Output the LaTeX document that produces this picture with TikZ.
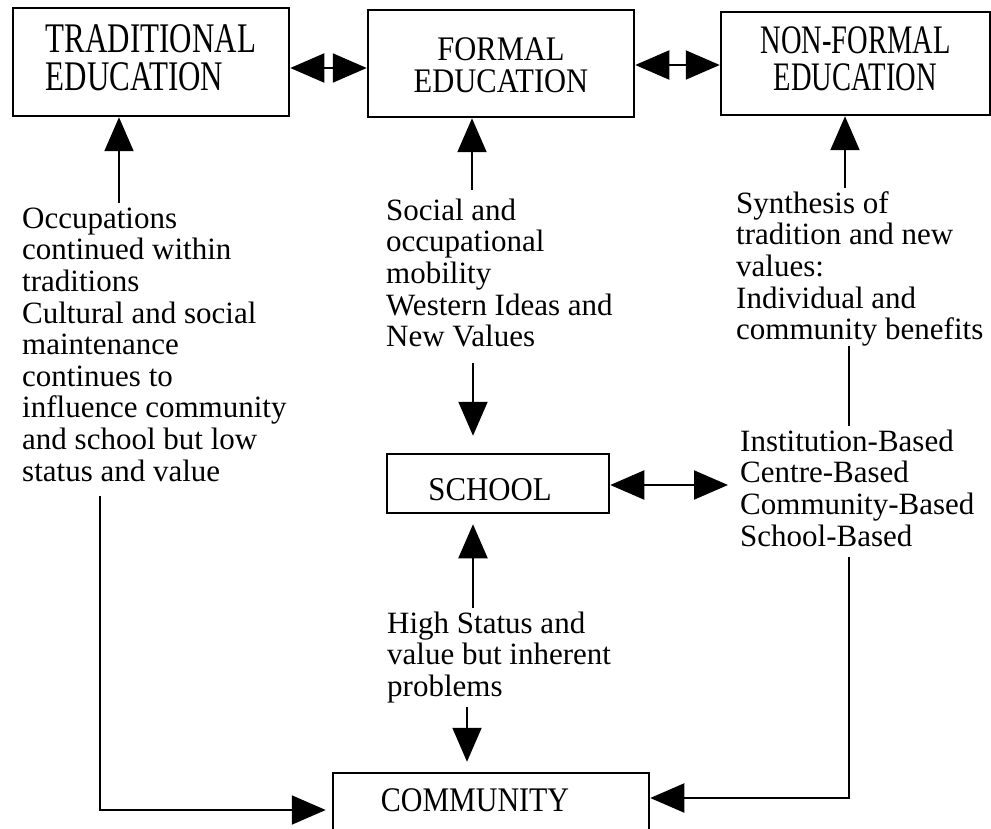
\documentclass[tikz,border=0pt]{standalone}
\usepackage{graphicx}
\usepackage{fontspec}
\setmainfont{Liberation Serif}
\usetikzlibrary{arrows.meta}
\begin{document}
\begin{tikzpicture}[x=1pt,y=-1pt,
  box/.style={draw,line width=2.5pt,inner sep=0pt,rectangle},
  txt/.style={font=\fontsize{31}{31.6}\selectfont,align=left,inner sep=0pt,anchor=north west},
  conn/.style={line width=2pt},
  tip/.style={conn,-{Triangle[length=34pt,width=29pt]}},
  dtip/.style={conn,{Triangle[length=34pt,width=29pt]}-{Triangle[length=34pt,width=29pt]}}]
\useasboundingbox (0,0) rectangle (991,829);
\clip (0,0) rectangle (991,829);

% boxes
\node[box,minimum width=276pt,minimum height=108pt] (trad) at (151,62)
  {\fontsize{31}{25.3}\selectfont\scalebox{1}[1.36]{\begin{tabular}{@{}l@{}}\rule{0pt}{22pt}TRADITIONAL\\EDUCATION\end{tabular}}};
\node[box,minimum width=266pt,minimum height=107pt] (form) at (501,63.5)
  {\fontsize{30.5}{27.4}\selectfont\scalebox{1}[1.13]{\begin{tabular}{@{}c@{}}\rule{0pt}{31.6pt}FORMAL\\EDUCATION\end{tabular}}};
\node[box,minimum width=269pt,minimum height=103pt] (nonf) at (855.5,63.5)
  {\fontsize{28.5}{24.6}\selectfont\scalebox{1}[1.42]{\begin{tabular}{@{}c@{}}NON-FORMAL\\EDUCATION\end{tabular}}};
\node[box,minimum width=222pt,minimum height=59pt] (school) at (498,483.5)
  {\fontsize{30.8}{31}\selectfont\rule{0pt}{35pt}\scalebox{1}[1.08]{SCHOOL}\hspace*{16pt}};
\node[box,minimum width=316pt,minimum height=80pt] (comm) at (491,813)
  {\fontsize{30}{31}\selectfont\rule[-26pt]{0pt}{26pt}\scalebox{1}[1.15]{COMMUNITY}\hspace*{32pt}};

% texts
\node[txt] (tradtxt) at (22,203) {\rule{0pt}{25pt}Occupations\\continued within\\traditions\\Cultural and social\\maintenance\\continues to\\influence community\\and school but low\\status and value};
\node[txt] (formtxt) at (386,195) {\rule{0pt}{25pt}Social and\\occupational\\mobility\\Western Ideas and\\New Values};
\node[txt] (righttxt) at (736,188) {\rule{0pt}{25pt}Synthesis of\\tradition and new\\values:\\Individual and\\community benefits};
\node[txt] (list) at (740,426) {\rule{0pt}{25pt}Institution-Based\\Centre-Based\\Community-Based\\School-Based};
\node[txt] (hightxt) at (387,608) {\rule{0pt}{25pt}High Status and\\value but inherent\\problems};

% x positions of vertical connectors
\coordinate (xa) at (119,0);
\coordinate (xb) at (472,0);
\coordinate (xc) at (845,0);
\coordinate (xd) at (473,0);
\coordinate (xe) at (467,0);
\coordinate (xf) at (849,0);
\coordinate (xg) at (100,0);

% horizontal double arrows
\draw[dtip] ([yshift=-6pt]trad.east) -- ([yshift=-6pt]trad.east -| form.west);
\draw[dtip] ([yshift=-1.5pt]form.east) -- ([yshift=-1.5pt]form.east -| nonf.west);
\draw[dtip,shorten >=12pt] ([yshift=-1.5pt]school.east) -- ([yshift=-1.5pt]school.east -| list.west);

% vertical arrows to top boxes
\draw[tip] (xa |- tradtxt.north) -- (xa |- trad.south);
\draw[tip,shorten <=5pt] (xb |- formtxt.north) -- (xb |- form.south);
\draw[tip] (xc |- righttxt.north) -- (xc |- nonf.south);

% school arrows
\draw[tip,shorten <=16pt,shorten >=17pt] (xd |- formtxt.south) -- (xd |- school.north);
\draw[tip,shorten >=10pt] (xd |- hightxt.north) -- (xd |- school.south);
\draw[tip,shorten <=4pt,shorten >=10pt] (xe |- hightxt.south) -- (xe |- comm.north);

% right side
\draw[conn] (xf |- righttxt.south) -- (xf |- list.north);
\draw[tip,shorten <=10pt] (xf |- list.south) |- ([yshift=15pt]comm.east);

% left side
\draw[tip,shorten <=14pt,shorten >=6pt] (xg |- tradtxt.south) |- ([yshift=3pt]comm.west);
\end{tikzpicture}
\end{document}
